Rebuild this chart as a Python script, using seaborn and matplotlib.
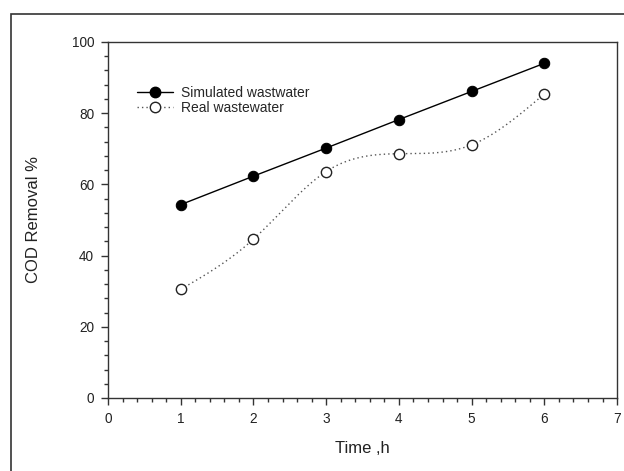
import matplotlib
matplotlib.use("Agg")
import matplotlib.pyplot as plt
import numpy as np
import pandas as pd
import seaborn as sns
from matplotlib.lines import Line2D
from matplotlib.patches import Rectangle
from matplotlib.ticker import MultipleLocator

# Data
time_h = [1, 2, 3, 4, 5, 6]
simulated = [54.3, 62.3, 70.2, 78.2, 86.1, 94.0]
real = [30.5, 44.6, 63.6, 68.6, 71.1, 85.4]


def natural_spline(x, y, n=300):
    """Natural cubic spline through the points (for the smooth dotted curve)."""
    x = np.asarray(x, float)
    y = np.asarray(y, float)
    k = len(x)
    h = np.diff(x)
    a = np.zeros((k, k))
    b = np.zeros(k)
    a[0, 0] = a[-1, -1] = 1
    for i in range(1, k - 1):
        a[i, i - 1] = h[i - 1]
        a[i, i] = 2 * (h[i - 1] + h[i])
        a[i, i + 1] = h[i]
        b[i] = 3 * ((y[i + 1] - y[i]) / h[i] - (y[i] - y[i - 1]) / h[i - 1])
    c = np.linalg.solve(a, b)
    xs = np.linspace(x[0], x[-1], n)
    idx = np.clip(np.searchsorted(x, xs) - 1, 0, k - 2)
    dx = xs - x[idx]
    bb = (y[idx + 1] - y[idx]) / h[idx] - h[idx] * (2 * c[idx] + c[idx + 1]) / 3
    dd = (c[idx + 1] - c[idx]) / (3 * h[idx])
    ys = y[idx] + bb * dx + c[idx] * dx ** 2 + dd * dx ** 3
    return xs, ys


sns.set_theme(style="ticks")
plt.rcParams["font.family"] = ["Liberation Sans", "DejaVu Sans"]

df = pd.DataFrame({"time": time_h, "simulated": simulated, "real": real})

fig = plt.figure(figsize=(6.24, 4.71), dpi=100)
ax = fig.add_axes([0.173, 0.155, 0.816, 0.756])

# Outer frame of the picture (only left and top edges visible)
fig.patches.append(Rectangle((11 / 624, -0.1), 1.2, 1 - 14 / 471 + 0.1,
                             transform=fig.transFigure, fill=False,
                             edgecolor="#333333", linewidth=1.2, zorder=0))

sns.lineplot(data=df, x="time", y="simulated", ax=ax, color="black", linewidth=1.0,
             marker="o", markersize=7.5, markerfacecolor="black",
             markeredgecolor="black")

xs, ys = natural_spline(time_h, real)
ax.plot(xs, ys, color="#555555", linestyle=(0, (1, 2.2)), linewidth=1.0, zorder=2)
sns.scatterplot(data=df, x="time", y="real", ax=ax, s=55, facecolor="white",
                edgecolor="#222222", linewidth=1.0, zorder=3)

ax.set_xlim(0, 7)
ax.set_ylim(0, 100)
ax.xaxis.set_major_locator(MultipleLocator(1))
ax.xaxis.set_minor_locator(MultipleLocator(0.2))
ax.yaxis.set_major_locator(MultipleLocator(20))
ax.yaxis.set_minor_locator(MultipleLocator(4))
ax.tick_params(which="major", direction="out", length=5, width=1, labelsize=9.8,
               color="#333333", labelcolor="#222222", pad=5)
ax.tick_params(which="minor", direction="out", length=3, width=1, color="#333333")
for s in ax.spines.values():
    s.set_color("#333333")
    s.set_linewidth(1.0)

ax.set_xlabel("Time ,h", fontsize=12, color="#222222", labelpad=11)
ax.set_ylabel("COD Removal %", fontsize=12, color="#222222", labelpad=22)

handles = [
    Line2D([], [], color="black", linewidth=1.0, marker="o", markersize=7.5,
           markerfacecolor="black"),
    Line2D([], [], color="#555555", linestyle=(0, (1, 2.2)), linewidth=1.0,
           marker="o", markersize=7.5, markerfacecolor="white",
           markeredgecolor="#222222"),
]
ax.legend(handles, ["Simulated wastwater", "Real wastewater"], loc="upper left",
          bbox_to_anchor=(0.046, 0.893), frameon=False, fontsize=10,
          handlelength=2.6, handletextpad=0.6, labelspacing=0.1, borderaxespad=0)

fig.savefig("out.png", dpi=100)
